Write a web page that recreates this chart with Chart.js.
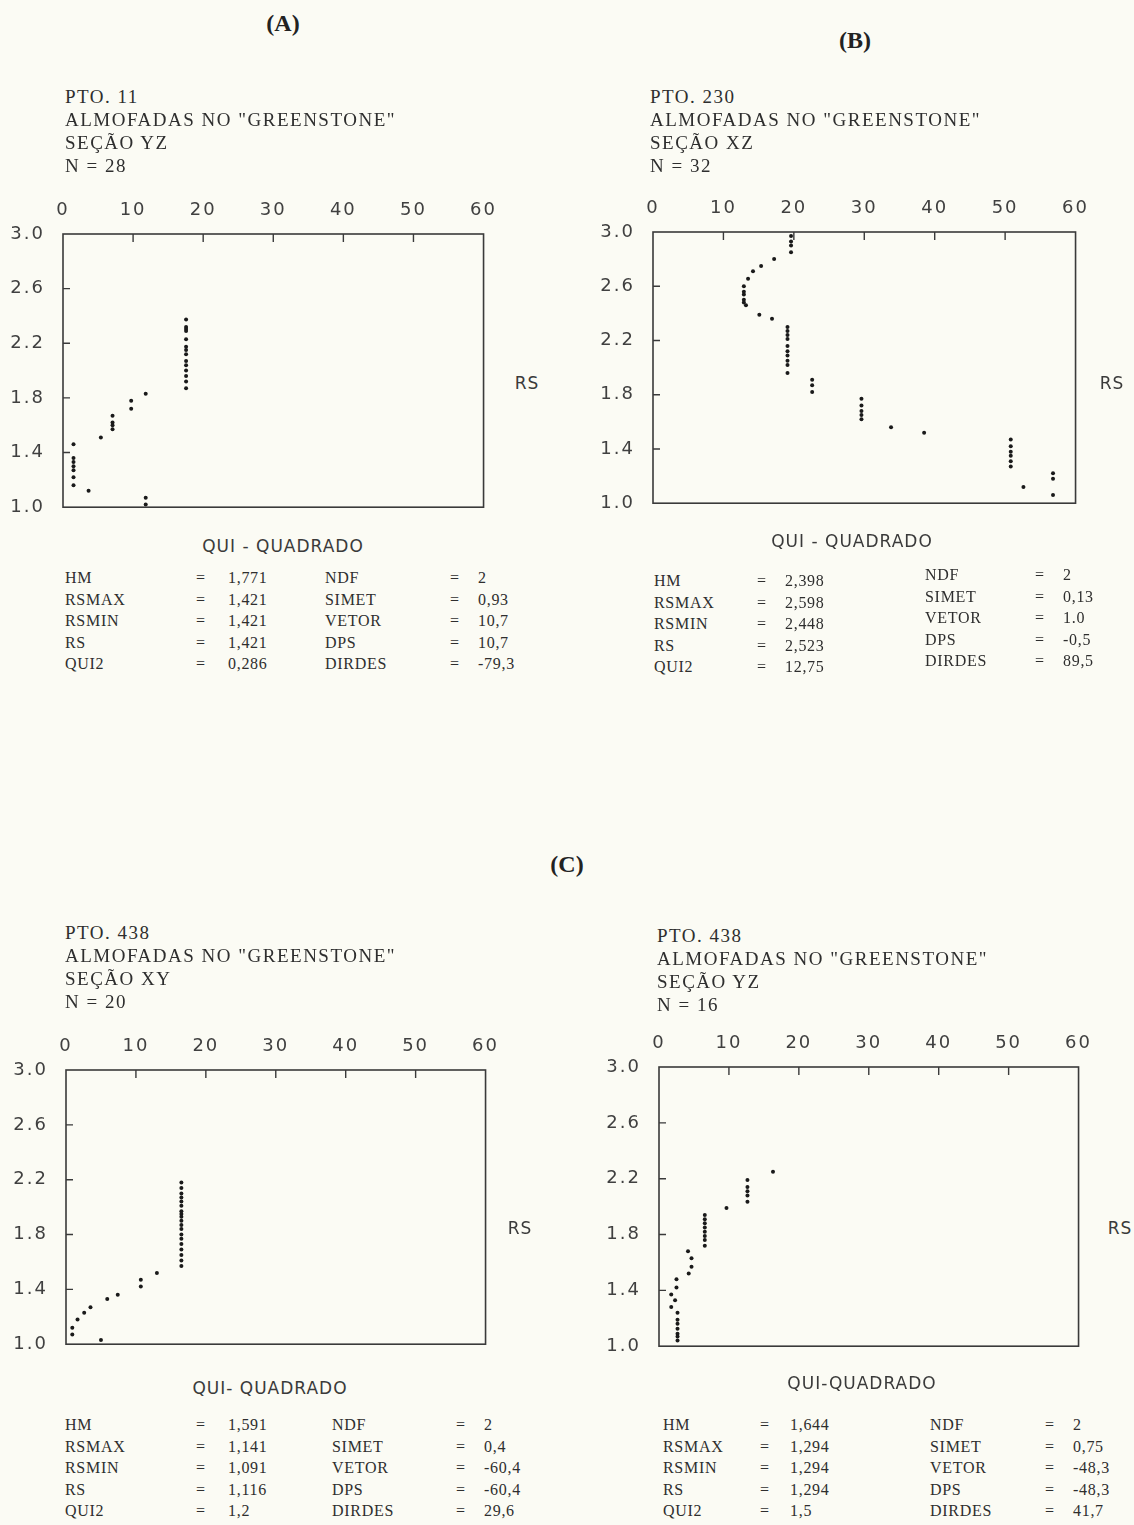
<!DOCTYPE html>
<html><head><meta charset="utf-8">
<script src="https://cdn.jsdelivr.net/npm/chart.js@4.4.1/dist/chart.umd.min.js"></script>
<style>
html,body{margin:0;padding:0;background:#fbfbf4;}
#page{position:relative;width:1134px;height:1525px;overflow:hidden;background:#fbfbf4;}
canvas{position:absolute;}
.t{position:absolute;font-family:"Liberation Serif","Times New Roman",serif;color:#2e2e2e;white-space:nowrap;}
.hdr{font-size:19px;line-height:23px;letter-spacing:1.5px;}
.big{font-weight:bold;font-size:24px;transform:translateX(-50%);color:#222;}
.ax{font-family:"DejaVu Sans",sans-serif;font-size:17px;letter-spacing:1px;color:#3a3a3a;transform:translate(-50%,-50%);}
.st{font-size:16px;line-height:21.5px;letter-spacing:0.7px;}
</style></head><body><div id="page"></div>
<script>
// ---------- DATA ----------
const xTickValues = [0, 10, 20, 30, 40, 50, 60];
const yTickValues = [1.0, 1.4, 1.8, 2.2, 2.6, 3.0];

// Panel A  (PTO. 11, SEÇÃO YZ)
const quiA = [1.5,1.5,1.5,1.5,1.5,1.5,1.5, 3.65, 5.4, 7.07,7.07,7.07,7.07, 9.73,9.73, 11.8, 11.8,11.8,
  17.56,17.56,17.56,17.56,17.56,17.56,17.56,17.56,17.56,17.56,17.56,17.56,17.56,17.56];
const rsA  = [1.46,1.36,1.33,1.30,1.27,1.22,1.16, 1.12, 1.51, 1.67,1.62,1.60,1.57, 1.78,1.72, 1.83, 1.07,1.02,
  2.375,2.32,2.305,2.29,2.23,2.175,2.15,2.12,2.07,2.04,2.00,1.96,1.92,1.87];

// Panel B  (PTO. 230, SEÇÃO XZ)
const quiB = [19.6,19.6,19.6,19.6, 17.2, 15.35, 14.2, 13.5, 12.9,12.9,12.9,12.9,12.9, 13.2, 15.1, 16.9,
  19.1,19.1,19.1,19.1,19.1,19.1,19.1,19.1,19.1,19.1, 22.6,22.6,22.6, 29.6,29.6,29.6,29.6,29.6, 33.8, 38.5,
  50.8,50.8,50.8,50.8,50.8,50.8, 52.6, 56.8,56.8, 56.8];
const rsB  = [2.97,2.93,2.90,2.85, 2.80, 2.75, 2.71, 2.655, 2.60,2.56,2.54,2.50,2.48, 2.46, 2.39, 2.36,
  2.30,2.27,2.24,2.21,2.16,2.12,2.09,2.05,2.02,1.96, 1.91,1.87,1.82, 1.77,1.72,1.68,1.65,1.62, 1.56, 1.52,
  1.47,1.42,1.38,1.35,1.31,1.27, 1.12, 1.22,1.18, 1.06];

// Panel C  (PTO. 438, SEÇÃO XY)
const quiC = [0.9,0.9, 1.65, 2.6, 3.5, 5.0, 5.9, 7.4, 10.7,10.7, 13.0,
  16.5,16.5,16.5,16.5,16.5,16.5,16.5,16.5,16.5,16.5,16.5,16.5,16.5,16.5,16.5,16.5,16.5,16.5,16.5];
const rsC  = [1.12,1.07, 1.18, 1.23, 1.27, 1.03, 1.33, 1.36, 1.47,1.42, 1.52,
  2.18,2.14,2.10,2.07,2.04,2.01,1.97,1.95,1.93,1.90,1.87,1.84,1.80,1.77,1.73,1.69,1.65,1.61,1.57];

// Panel D  (PTO. 438, SEÇÃO YZ)
const quiD = [1.75,1.75, 2.3, 2.5,2.5, 2.65,2.65,2.65,2.65,2.65,2.65,2.65, 4.15, 4.65,4.65, 4.25,
  6.55,6.55,6.55,6.55,6.55,6.55,6.55,6.55, 9.65, 12.65,12.65,12.65,12.65,12.65, 16.3];
const rsD  = [1.37,1.28, 1.33, 1.48,1.42, 1.24,1.19,1.16,1.125,1.09,1.07,1.04, 1.68, 1.63,1.57, 1.52,
  1.94,1.91,1.88,1.85,1.82,1.79,1.76,1.72, 1.99, 2.19,2.14,2.11,2.08,2.035, 2.25];

// Texts
const headerA = ['PTO. 11', 'ALMOFADAS NO "GREENSTONE"', 'SEÇÃO YZ', 'N = 28'];
const headerB = ['PTO. 230', 'ALMOFADAS NO "GREENSTONE"', 'SEÇÃO XZ', 'N = 32'];
const headerC = ['PTO. 438', 'ALMOFADAS NO "GREENSTONE"', 'SEÇÃO XY', 'N = 20'];
const headerD = ['PTO. 438', 'ALMOFADAS NO "GREENSTONE"', 'SEÇÃO YZ', 'N = 16'];
const statNamesL = ['HM', 'RSMAX', 'RSMIN', 'RS', 'QUI2'];
const statNamesR = ['NDF', 'SIMET', 'VETOR', 'DPS', 'DIRDES'];
const statsAL = ['1,771', '1,421', '1,421', '1,421', '0,286'];
const statsAR = ['2', '0,93', '10,7', '10,7', '-79,3'];
const statsBL = ['2,398', '2,598', '2,448', '2,523', '12,75'];
const statsBR = ['2', '0,13', '1.0', '-0,5', '89,5'];
const statsCL = ['1,591', '1,141', '1,091', '1,116', '1,2'];
const statsCR = ['2', '0,4', '-60,4', '-60,4', '29,6'];
const statsDL = ['1,644', '1,294', '1,294', '1,294', '1,5'];
const statsDR = ['2', '0,75', '-48,3', '-48,3', '41,7'];
const xTitleA = 'QUI - QUADRADO', xTitleB = 'QUI - QUADRADO', xTitleC = 'QUI- QUADRADO', xTitleD = 'QUI-QUADRADO';
const yTitle = 'RS';

// ---------- LAYOUT ----------
const page = document.getElementById('page');
function addText(cls, txt, x, y) {
  const d = document.createElement('div');
  d.className = 't ' + cls; d.textContent = txt;
  d.style.left = x + 'px'; d.style.top = y + 'px';
  page.appendChild(d); return d;
}

const boxPlugin = {
  id: 'boxPlugin',
  beforeUpdate(chart) { chart.ctx.letterSpacing = '2px'; },
  beforeDraw(chart) { chart.ctx.letterSpacing = '2px'; },
  afterDatasetsDraw(chart) {
    const { ctx, chartArea: a } = chart;
    const xs = chart.scales.x, ys = chart.scales.y;
    ctx.save();
    ctx.strokeStyle = '#3a3a3a'; ctx.lineWidth = 1.6;
    ctx.strokeRect(a.left, a.top, a.width, a.height);
    ctx.lineWidth = 1.4;
    ctx.beginPath();
    xs.ticks.forEach(t => {
      if (t.value > xs.min && t.value < xs.max) {
        const px = xs.getPixelForValue(t.value);
        ctx.moveTo(px, a.top); ctx.lineTo(px, a.top + 8);
      }
    });
    ys.ticks.forEach(t => {
      if (t.value > ys.min && t.value < ys.max) {
        const py = ys.getPixelForValue(t.value);
        ctx.moveTo(a.left, py); ctx.lineTo(a.left + 7, py);
      }
    });
    ctx.stroke();
    ctx.restore();
  }
};

function makePanel(p, xs, ys, header, sL, sR, xTitle) {
  const padL = 70, padT = 60, padR = 20, padB = 15;
  const cw = (p.box.r - p.box.l) + padL + padR;
  const ch = (p.box.b - p.box.t) + padT + padB;
  const c = document.createElement('canvas');
  c.width = cw; c.height = ch;
  c.style.width = cw + 'px'; c.style.height = ch + 'px';
  c.style.left = (p.box.l - padL) + 'px'; c.style.top = (p.box.t - padT) + 'px';
  page.appendChild(c);
  const tickFont = { family: '"DejaVu Sans", sans-serif', size: 18 };
  new Chart(c, {
    type: 'scatter',
    data: { datasets: [{ data: xs.map((x, i) => ({ x: x, y: ys[i] })),
      pointRadius: 2, pointHoverRadius: 2, backgroundColor: '#1a1a1a', borderWidth: 0, pointStyle: 'circle' }] },
    options: {
      responsive: false, animation: false, events: [],
      layout: { padding: { left: 0, top: 0, right: padR, bottom: padB } },
      plugins: { legend: { display: false }, tooltip: { enabled: false } },
      scales: {
        x: { type: 'linear', position: 'top', min: 0, max: 60,
          afterBuildTicks: s => { s.ticks = xTickValues.map(v => ({ value: v })); },
          afterFit: s => { s.height = padT; },
          grid: { display: false, drawTicks: false }, border: { display: false },
          ticks: { padding: 13, font: tickFont, color: '#404040', maxRotation: 0, callback: v => String(v) } },
        y: { type: 'linear', position: 'left', min: 1.0, max: 3.0,
          afterBuildTicks: s => { s.ticks = yTickValues.map(v => ({ value: v })); },
          afterFit: s => { s.width = padL; },
          grid: { display: false, drawTicks: false }, border: { display: false },
          ticks: { padding: 18, font: tickFont, color: '#404040', callback: v => Number(v).toFixed(1) } }
      }
    },
    plugins: [boxPlugin]
  });
  header.forEach((h, i) => addText('hdr', h, p.hdr.x, p.hdr.y + i * 23));
  addText('ax', yTitle, p.rs.x, p.rs.y);
  addText('ax', xTitle, p.qui.x, p.qui.y);
  const cx = p.cols;
  for (let i = 0; i < 5; i++) {
    const yl = p.st.yL + i * 21.5, yr = p.st.yR + i * 21.5;
    addText('st', statNamesL[i], cx[0], yl);
    addText('st', '=', cx[1], yl);
    addText('st', sL[i], cx[2], yl);
    addText('st', statNamesR[i], cx[3], yr);
    addText('st', '=', cx[4], yr);
    addText('st', sR[i], cx[5], yr);
  }
}

addText('big', '(A)', 283, 10);
addText('big', '(B)', 855, 27);
addText('big', '(C)', 567, 851);

makePanel({ box: { l: 63, r: 490, t: 234, b: 521 }, hdr: { x: 65, y: 85 }, rs: { x: 527, y: 383 },
  qui: { x: 283, y: 546 }, st: { yL: 567, yR: 567 }, cols: [65, 196, 228, 325, 450, 478] },
  quiA, rsA, headerA, statsAL, statsAR, xTitleA);
makePanel({ box: { l: 653, r: 1082, t: 232, b: 517 }, hdr: { x: 650, y: 85 }, rs: { x: 1112, y: 383 },
  qui: { x: 852, y: 541 }, st: { yL: 570, yR: 564 }, cols: [654, 757, 785, 925, 1035, 1063] },
  quiB, rsB, headerB, statsBL, statsBR, xTitleB);
makePanel({ box: { l: 66, r: 492, t: 1070, b: 1358 }, hdr: { x: 65, y: 921 }, rs: { x: 520, y: 1228 },
  qui: { x: 270, y: 1388 }, st: { yL: 1414, yR: 1414 }, cols: [65, 196, 228, 332, 456, 484] },
  quiC, rsC, headerC, statsCL, statsCR, xTitleC);
makePanel({ box: { l: 659, r: 1085, t: 1067, b: 1360 }, hdr: { x: 657, y: 924 }, rs: { x: 1120, y: 1228 },
  qui: { x: 862, y: 1383 }, st: { yL: 1414, yR: 1414 }, cols: [663, 760, 790, 930, 1045, 1073] },
  quiD, rsD, headerD, statsDL, statsDR, xTitleD);
</script></body></html>
